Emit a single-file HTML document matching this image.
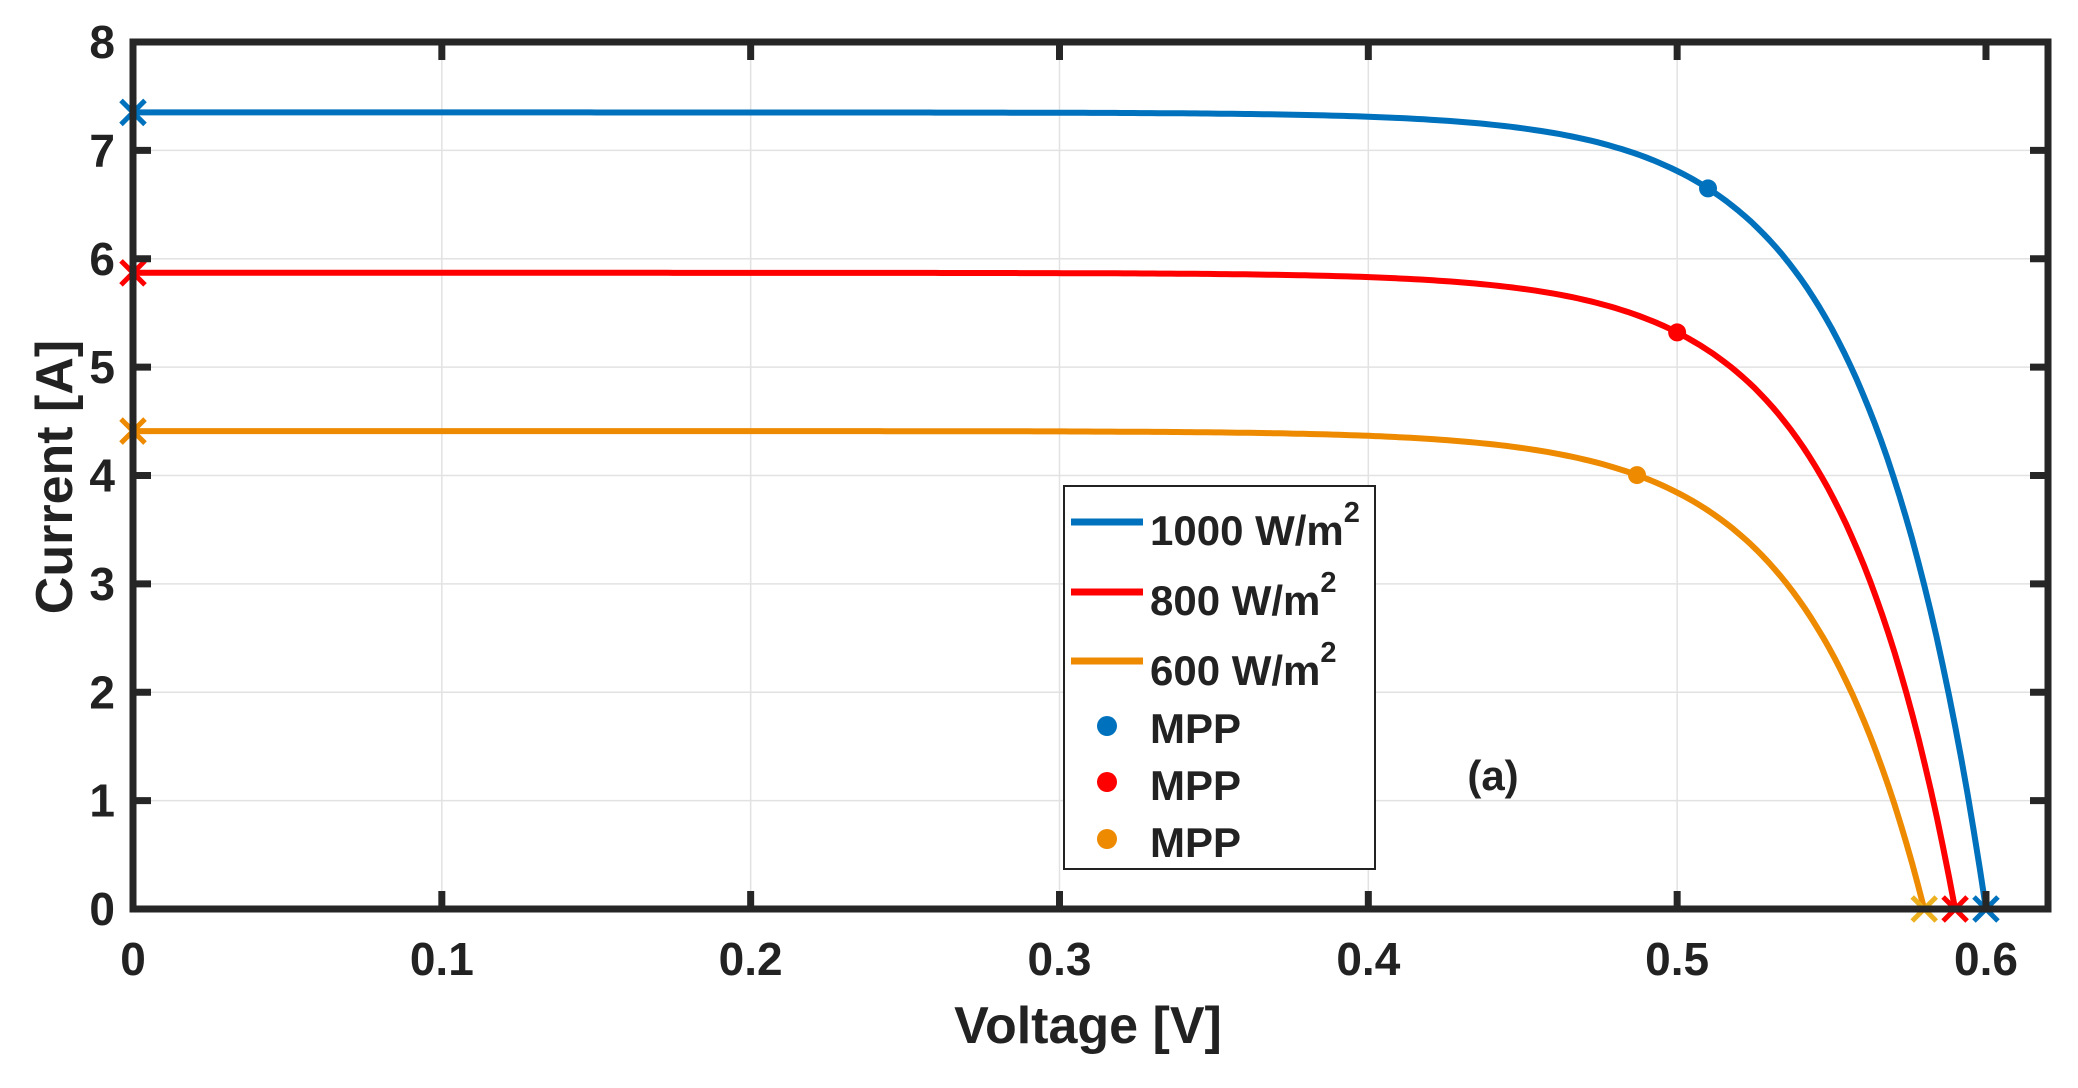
<!DOCTYPE html>
<html><head><meta charset="utf-8"><style>
html,body{margin:0;padding:0;background:#fff;}
svg{display:block;}
text{font-family:"Liberation Sans",Arial,sans-serif;font-weight:bold;fill:#222;}
</style></head><body>
<svg id="s" width="2078" height="1088" viewBox="0 0 2078 1088" xmlns="http://www.w3.org/2000/svg">
<g id="grid" stroke="#e2e2e2" stroke-width="1.5"></g>
<g id="curves" fill="none" stroke-width="6" stroke-linejoin="round"></g>
<g id="marks"></g>
<rect x="133" y="42" width="1915" height="867" fill="none" stroke="#262626" stroke-width="7"/>
<g id="ticks" stroke="#262626" stroke-width="7"></g>
<g id="labels" font-size="46"></g>
<text x="1088" y="1043" font-size="52" text-anchor="middle">Voltage [V]</text>
<text transform="translate(72,477) rotate(-90)" font-size="52" text-anchor="middle">Current [A]</text>
<rect x="1064" y="486" width="311" height="383" fill="#fff" stroke="#222" stroke-width="2"/>
<line x1="1071" y1="522" x2="1143" y2="522" stroke="#0072BD" stroke-width="7"/>
<line x1="1071" y1="592" x2="1143" y2="592" stroke="#FF0000" stroke-width="7"/>
<line x1="1071" y1="661" x2="1143" y2="661" stroke="#EE8A00" stroke-width="7"/>
<text x="1150" y="545" font-size="42">1000 W/m<tspan font-size="29" dy="-23">2</tspan></text>
<text x="1150" y="615" font-size="42">800 W/m<tspan font-size="29" dy="-23">2</tspan></text>
<text x="1150" y="685" font-size="42">600 W/m<tspan font-size="29" dy="-23">2</tspan></text>
<circle cx="1107" cy="726" r="10" fill="#0072BD"/>
<circle cx="1107" cy="782" r="10" fill="#FF0000"/>
<circle cx="1107" cy="839" r="10" fill="#EE8A00"/>
<text x="1150" y="743" font-size="42">MPP</text>
<text x="1150" y="800" font-size="42">MPP</text>
<text x="1150" y="857" font-size="42">MPP</text>
<text x="1493" y="790" font-size="42" text-anchor="middle">(a)</text>
</svg>
<script>
var NS="http://www.w3.org/2000/svg";
function X(v){return 133+v*3088.3;}
function Y(i){return 909-i*108.375;}
function el(p,t,a){var e=document.createElementNS(NS,t);for(var k in a)e.setAttribute(k,a[k]);document.getElementById(p).appendChild(e);return e;}
for(var i=1;i<6;i++){var x=X(i/10);el("grid","line",{x1:x,y1:42,x2:x,y2:909});}
for(var i=1;i<8;i++){var y=Y(i);el("grid","line",{x1:133,y1:y,x2:2048,y2:y});}
for(var i=0;i<=6;i++){var x=X(i/10);el("ticks","line",{x1:x,y1:909,x2:x,y2:891});el("ticks","line",{x1:x,y1:42,x2:x,y2:60});
 var t=el("labels","text",{x:x,y:975,"text-anchor":"middle"});t.textContent=i==0?"0":"0."+i;}
for(var i=0;i<=8;i++){var y=Y(i);el("ticks","line",{x1:133,y1:y,x2:151,y2:y});el("ticks","line",{x1:2048,y1:y,x2:2030,y2:y});
 var t=el("labels","text",{x:115,y:y+16,"text-anchor":"end"});t.textContent=i;}
var S=[["#0072BD",7.35,0.6,0.0383,0.51,"#0072BD"],["#FF0000",5.87,0.59,0.038,0.5,"#FF0000"],["#EE8A00",4.41,0.58,0.039,0.487,"#EDB120"]];
S.forEach(function(s){var pts=[];for(var k=0;k<=300;k++){var v=s[2]*k/300;var I=s[1]*(1-Math.exp((v-s[2])/s[3]));if(I<0)I=0;pts.push(X(v).toFixed(1)+","+Y(I).toFixed(1));}
 el("curves","polyline",{points:pts.join(" "),stroke:s[0]});
 var Im=s[1]*(1-Math.exp((s[4]-s[2])/s[3]));el("marks","circle",{cx:X(s[4]),cy:Y(Im),r:9,fill:s[0]});
 var Isc=s[1]*(1-Math.exp(-s[2]/s[3]));
 [[X(0),Y(Isc),s[0]],[X(s[2]),Y(0),s[5]]].forEach(function(m){var d=12;
  el("marks","path",{d:"M"+(m[0]-d)+","+(m[1]-d)+"L"+(m[0]+d)+","+(m[1]+d)+"M"+(m[0]-d)+","+(m[1]+d)+"L"+(m[0]+d)+","+(m[1]-d),stroke:m[2],"stroke-width":5,fill:"none"});});
});
</script>
</body></html>
